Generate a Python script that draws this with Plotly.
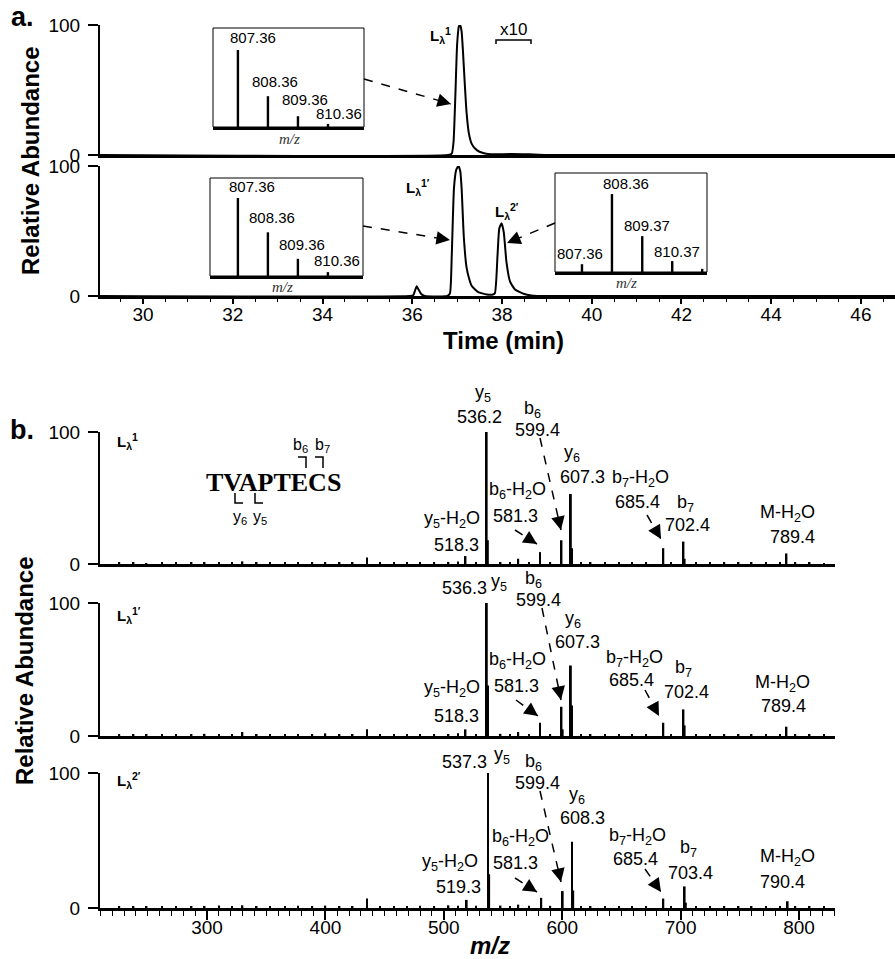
import plotly.graph_objects as go

W, H = 895, 959
def px(x): return x / W
def py(y): return 1 - y / H

FONT = "Liberation Sans, Arial, sans-serif"

# ---------------- DATA ----------------
# (a) extracted ion chromatograms (time in min, relative abundance)
chrom_top_time = [29.04, 36.80, 36.88, 36.92, 36.96, 37.00, 37.04, 37.07, 37.10, 37.13, 37.17, 37.21,
                  37.26, 37.32, 37.40, 37.50, 37.62, 37.75, 37.90, 38.20, 38.60, 39.00, 46.76]
chrom_top_int = [0, 0, 1, 10, 45, 85, 99, 100, 95, 80, 55, 33,
                 17, 9, 5, 2.5, 1.2, 0.5, 0.6, 0.8, 0.5, 0, 0]

chrom_bot_time = [29.04, 35.95, 36.02, 36.06, 36.10, 36.14, 36.20, 36.28, 36.78, 36.84, 36.88, 36.93,
                  36.98, 37.03, 37.07, 37.10, 37.15, 37.21, 37.27, 37.32, 37.40, 37.47, 37.56, 37.66,
                  37.78, 37.84, 37.90, 37.94, 37.99, 38.04, 38.10, 38.18, 38.29, 38.40, 38.50, 38.62,
                  38.80, 46.76]
chrom_bot_int = [0, 0, 0.5, 4, 7.5, 5, 1.5, 0, 0, 2, 31, 83,
                 97, 100, 96, 83, 45, 22, 13, 8, 5, 3, 2, 1.2,
                 1, 2, 31, 52, 56, 49, 26, 11, 5, 3, 1.5, 0.5,
                 0, 0]
time_ticks = [30, 32, 34, 36, 38, 40, 42, 44, 46]

# insets: isotope envelopes (m/z, relative abundance)
insetA_mz = [807.36, 808.36, 809.36, 810.36]
insetA_int = [100, 40, 14, 4]
insetA_lab = ["807.36", "808.36", "809.36", "810.36"]
insetB_mz = [807.36, 808.36, 809.36, 810.36]
insetB_int = [100, 56, 22, 5]
insetB_lab = ["807.36", "808.36", "809.36", "810.36"]
insetC_mz = [807.36, 808.36, 809.37, 810.37, 811.37]
insetC_int = [10, 100, 46, 14, 4]
insetC_lab = ["807.36", "808.36", "809.37", "810.37"]

# (b) MS/MS spectra (m/z, relative abundance)
spec1_mz = [518.3, 536.2, 537.2, 581.3, 599.4, 607.3, 608.3, 685.4, 702.4, 703.4, 789.4]
spec1_int = [6, 100, 18, 9, 18, 53, 12, 12, 17, 4, 8]
spec2_mz = [518.3, 536.3, 537.3, 581.3, 599.4, 600.4, 607.3, 608.3, 685.4, 702.4, 703.4, 789.4]
spec2_int = [5, 100, 38, 10, 22, 5, 53, 23, 10, 20, 8, 7]
spec3_mz = [519.3, 537.3, 538.3, 582.3, 600.4, 608.3, 609.3, 685.4, 703.4, 704.4, 790.4]
spec3_int = [6, 100, 25, 7.5, 12.5, 49, 13, 7, 16, 4, 5]

# minor (noise-level) peaks
minor_mz = [226, 238, 249, 262, 274, 287, 298, 310, 321, 330, 342, 353, 366, 377, 389, 400, 412,
            423, 435, 446, 458, 469, 480, 492, 504, 512, 527, 548, 556, 563, 572, 590, 616, 624,
            636, 648, 659, 671, 692, 713, 725, 737, 749, 760, 772, 784, 797, 809, 821]
minor1_int = [0.8, 1.0, 0.7, 1.2, 0.9, 1.1, 0.8, 1.5, 0.9, 2.0, 1.0, 1.2, 0.8, 1.3, 1.0, 1.2, 0.9,
              1.1, 5.0, 1.0, 1.3, 1.0, 1.4, 1.2, 1.6, 1.8, 1.5, 1.5, 1.2, 4.0, 1.6, 1.5, 1.3, 1.0,
              1.2, 1.0, 0.9, 1.1, 1.2, 1.0, 0.9, 1.0, 1.2, 0.8, 1.0, 1.1, 0.9, 1.0, 0.7]
minor2_int = [0.9, 1.1, 0.8, 1.0, 1.2, 1.0, 1.6, 1.5, 1.0, 3.0, 1.1, 1.3, 0.9, 1.2, 1.1, 2.0, 1.0,
              1.2, 5.0, 1.1, 1.2, 1.1, 1.3, 1.1, 1.5, 2.0, 1.4, 1.6, 1.3, 3.0, 1.5, 1.4, 1.2, 1.1,
              1.3, 1.1, 1.2, 1.0, 1.1, 1.0, 1.0, 1.1, 1.3, 0.9, 1.1, 1.2, 1.0, 1.0, 0.8]
minor3_int = [1.2, 1.4, 1.0, 1.5, 1.3, 1.4, 1.2, 1.8, 1.3, 2.0, 1.4, 1.5, 1.2, 1.6, 1.3, 1.8, 1.2,
              1.4, 7.0, 1.3, 1.5, 1.4, 1.6, 1.5, 2.0, 1.6, 1.6, 1.8, 1.5, 2.5, 1.7, 1.6, 1.5, 1.3,
              1.5, 1.3, 1.4, 1.2, 1.3, 1.2, 1.2, 1.3, 1.5, 1.1, 1.3, 1.4, 1.2, 1.2, 1.0]
mz_ticks = [300, 400, 500, 600, 700, 800]

# fragment labels (text, px-x, px-y)
spec1_labels = [("y<sub>5</sub>", 483, 393), ("536.2", 479, 417), ("b<sub>6</sub>", 532, 410), ("599.4", 537, 430),
                ("y<sub>6</sub>", 572, 453), ("607.3", 582, 477), ("b<sub>6</sub>-H<sub>2</sub>O", 517, 490),
                ("581.3", 515, 516), ("b<sub>7</sub>-H<sub>2</sub>O", 640, 478), ("685.4", 637, 502),
                ("b<sub>7</sub>", 685, 503), ("702.4", 687, 525), ("M-H<sub>2</sub>O", 787, 513), ("789.4", 792, 537),
                ("y<sub>5</sub>-H<sub>2</sub>O", 452, 519), ("518.3", 457, 545)]
spec2_labels = [("536.3", 464, 588), ("y<sub>5</sub>", 499, 582), ("b<sub>6</sub>", 533, 579), ("599.4", 538, 600),
                ("y<sub>6</sub>", 573, 619), ("607.3", 577, 642), ("b<sub>6</sub>-H<sub>2</sub>O", 517, 660),
                ("581.3", 516, 686), ("b<sub>7</sub>-H<sub>2</sub>O", 634, 658), ("685.4", 631, 680),
                ("b<sub>7</sub>", 683, 668), ("702.4", 686, 692), ("M-H<sub>2</sub>O", 782, 683), ("789.4", 783, 706),
                ("y<sub>5</sub>-H<sub>2</sub>O", 452, 688), ("518.3", 457, 716)]
spec3_labels = [("537.3", 465, 762), ("y<sub>5</sub>", 502, 755), ("b<sub>6</sub>", 533, 762), ("599.4", 537, 783),
                ("y<sub>6</sub>", 577, 795), ("608.3", 582, 818), ("b<sub>6</sub>-H<sub>2</sub>O", 520, 837),
                ("581.3", 515, 863), ("b<sub>7</sub>-H<sub>2</sub>O", 637, 836), ("685.4", 635, 859),
                ("b<sub>7</sub>", 688, 848), ("703.4", 690, 873), ("M-H<sub>2</sub>O", 787, 857), ("790.4", 782, 882),
                ("y<sub>5</sub>-H<sub>2</sub>O", 450, 862), ("519.3", 458, 887)]

# ---------------- FIGURE ----------------
fig = go.Figure()

def add_line(xs, ys, xa, ya):
    fig.add_trace(go.Scatter(x=xs, y=ys, mode="lines", xaxis=xa, yaxis=ya,
                             line=dict(color="black", width=2, shape="spline", smoothing=0.5),
                             hoverinfo="skip"))

def add_sticks(xs, ys, xa, ya, w):
    fig.add_trace(go.Bar(x=xs, y=ys, width=w, xaxis=xa, yaxis=ya,
                         marker=dict(color="black", line=dict(width=0)), hoverinfo="skip"))

add_line(chrom_top_time, chrom_top_int, "x", "y")
add_line(chrom_bot_time, chrom_bot_int, "x2", "y2")
add_sticks(insetA_mz, insetA_int, "x3", "y3", 0.08)
add_sticks(insetB_mz, insetB_int, "x4", "y4", 0.08)
add_sticks(insetC_mz, insetC_int, "x5", "y5", 0.08)
for mz, it, xa, ya in [(minor_mz, minor1_int, "x6", "y6"), (minor_mz, minor2_int, "x7", "y7"),
                       (minor_mz, minor3_int, "x8", "y8")]:
    add_sticks(mz, it, xa, ya, 1.3)
add_sticks(spec1_mz, spec1_int, "x6", "y6", 1.6)
add_sticks(spec2_mz, spec2_int, "x7", "y7", 1.6)
add_sticks(spec3_mz, spec3_int, "x8", "y8", 1.6)

def ax(**kw):
    d = dict(showgrid=False, zeroline=False, showline=False, ticks="", showticklabels=False,
             linecolor="black", tickcolor="black", fixedrange=True, automargin=False,
             tickfont=dict(family=FONT, size=19, color="black"))
    d.update(kw)
    return d

yab = dict(showline=True, linewidth=2, ticks="outside", ticklen=10, tickwidth=2,
           tickvals=[0, 100], showticklabels=True, range=[0, 100], ticklabelstandoff=4)

chrom_x = [29.04, 46.76]
spec_x = [209.6, 830.4]

layout = dict(
    template="none",
    width=W, height=H, margin=dict(l=0, r=0, t=0, b=0, pad=0, autoexpand=False),
    paper_bgcolor="white", plot_bgcolor="rgba(0,0,0,0)", showlegend=False, barmode="overlay",
    font=dict(family=FONT, color="black"),
    xaxis=ax(domain=[px(100), 1], range=chrom_x, anchor="y", showline=True, linewidth=2.5),
    yaxis=ax(domain=[py(155), py(25)], anchor="x", **yab),
    xaxis2=ax(domain=[px(100), 1], range=chrom_x, anchor="y2", showline=True, linewidth=2.5,
              ticks="outside", ticklen=5, tickwidth=1.5, tickvals=time_ticks, showticklabels=True,
              ticklabelstandoff=-6,
              minor=dict(dtick=0.5, tick0=30, ticklen=3, tickwidth=1.2, ticks="outside", tickcolor="black")),
    yaxis2=ax(domain=[py(296), py(166)], anchor="x2", **yab),
    xaxis3=ax(domain=[px(213), px(364)], range=[806.53, 811.56], anchor="y3", showline=True, linewidth=2.5),
    yaxis3=ax(domain=[py(127), py(28)], range=[0, 128.6], anchor="x3"),
    xaxis4=ax(domain=[px(210), px(363)], range=[806.43, 811.53], anchor="y4", showline=True, linewidth=2.5),
    yaxis4=ax(domain=[py(276), py(178)], range=[0, 125.6], anchor="x4"),
    xaxis5=ax(domain=[px(555), px(707)], range=[806.46, 811.53], anchor="y5", showline=True, linewidth=2.5),
    yaxis5=ax(domain=[py(272), py(173)], range=[0, 127], anchor="x5"),
    xaxis6=ax(domain=[px(100), px(835)], range=spec_x, anchor="y6", showline=True, linewidth=2.5),
    yaxis6=ax(domain=[py(564), py(432)], anchor="x6", **yab),
    xaxis7=ax(domain=[px(100), px(835)], range=spec_x, anchor="y7", showline=True, linewidth=2.5),
    yaxis7=ax(domain=[py(736), py(603)], anchor="x7", **yab),
    xaxis8=ax(domain=[px(100), px(835)], range=spec_x, anchor="y8", showline=True, linewidth=2.5,
              ticks="outside", ticklen=9, tickwidth=1.5, tickvals=mz_ticks, showticklabels=True,
              ticklabelstandoff=-9,
              minor=dict(dtick=10, tick0=300, ticklen=5, tickwidth=1.2, ticks="outside", tickcolor="black")),
    yaxis8=ax(domain=[py(908), py(773)], anchor="x8", **yab),
)
fig.update_layout(**layout)

shapes = []
annotations = []

def text(t, x, y, size=18, **kw):
    d = dict(text=t, x=px(x), y=py(y), xref="paper", yref="paper", showarrow=False,
             xanchor="center", yanchor="middle", font=dict(family=FONT, size=size, color="black"))
    d.update(kw)
    annotations.append(d)

def seg(pts, width=1.5, dash="solid"):
    path = "M " + " L ".join(f"{px(a)},{py(b)}" for a, b in pts)
    shapes.append(dict(type="path", path=path, xref="paper", yref="paper",
                       line=dict(color="black", width=width, dash=dash)))

def arrow(tail, tip, dash="dash"):
    shapes.append(dict(type="line", xref="paper", yref="paper", x0=px(tail[0]), y0=py(tail[1]),
                       x1=px(tip[0]), y1=py(tip[1]), line=dict(color="black", width=1.5, dash=dash)))
    dx, dy = tail[0] - tip[0], tail[1] - tip[1]
    n = (dx * dx + dy * dy) ** 0.5
    annotations.append(dict(x=px(tip[0]), y=py(tip[1]), xref="paper", yref="paper", text="",
                            showarrow=True, ax=dx / n * 14, ay=dy / n * 14, arrowhead=2,
                            arrowsize=1.7, arrowwidth=1.6, arrowcolor="black", standoff=0))

# inset boxes
for x0, x1, y0, y1 in [(213, 364, 28, 127), (210, 363, 178, 276), (555, 707, 173, 272)]:
    shapes.append(dict(type="rect", xref="paper", yref="paper", x0=px(x0), x1=px(x1), y0=py(y1), y1=py(y0),
                       line=dict(color="black", width=1)))

# inset labels
for lab, (x, y) in zip(insetA_lab, [(253, 38), (275, 81), (305, 100), (339, 114)]):
    text(lab, x, y, 15)
for lab, (x, y) in zip(insetB_lab, [(252, 187), (272, 218), (302, 244), (337, 260)]):
    text(lab, x, y, 15)
for lab, (x, y) in zip(insetC_lab, [(580, 253), (626, 183), (647, 225), (677, 251)]):
    text(lab, x, y, 15)
for x, y in [(289, 139), (282, 287), (626, 283)]:
    text("<i>m/z</i>", x, y, 15, font=dict(family="Liberation Serif, Times New Roman, serif", size=15, color="#333"))

# chromatogram peak labels and arrows
text("<b>L<sub>λ</sub><sup>1</sup></b>", 440, 36, 15)
text("<b>L<sub>λ</sub><sup>1′</sup></b>", 418, 188, 15)
text("<b>L<sub>λ</sub><sup>2′</sup></b>", 507, 212, 15)
arrow((364, 79), (451, 104))
arrow((363, 226), (450, 240))
arrow((555, 223), (507, 243))

# x10 bracket
text("x10", 513, 30, 17)
seg([(496, 44), (496, 40), (531, 40), (531, 44)], width=1.5)

# panel letters & axis titles
text("<b>a.</b>", 22, 17, 27)
text("<b>b.</b>", 22, 430, 27)
text("<b>Relative Abundance</b>", 30, 161, 24, textangle=-90)
text("<b>Relative Abundance</b>", 24, 671, 24, textangle=-90)
text("<b>Time (min)</b>", 504, 340, 24)
text("<b><i>m/z</i></b>", 490, 945, 24)

# spectrum labels
text("<b>L<sub>λ</sub><sup>1</sup></b>", 128, 441, 15)
text("<b>L<sub>λ</sub><sup>1′</sup></b>", 129, 615, 15)
text("<b>L<sub>λ</sub><sup>2′</sup></b>", 129, 780, 15)
for labs in (spec1_labels, spec2_labels, spec3_labels):
    for t, x, y in labs:
        text(t, x, y, 18)

for tail, tip in [((540, 438), (561, 530)), ((515, 530), (537, 544)), ((647, 515), (661, 539)),
                  ((542, 608), (561, 700)), ((516, 700), (538, 716)), ((645, 690), (659, 716)),
                  ((540, 791), (561, 882)), ((515, 878), (537, 892)), ((645, 869), (661, 892))]:
    arrow(tail, tip)

# peptide sequence with cleavage brackets
text("<b>TVAPTECS</b>", 273, 482, 25, font=dict(family="Liberation Serif, Times New Roman, serif", size=26, color="black"))
seg([(298, 457), (306, 457), (306, 468)])
seg([(315, 457), (323, 457), (323, 468)])
seg([(235, 493), (235, 503), (243, 503)])
seg([(255, 493), (255, 503), (263, 503)])
text("b<sub>6</sub>", 300, 445, 16)
text("b<sub>7</sub>", 322, 445, 16)
text("y<sub>6</sub>", 240, 517, 16)
text("y<sub>5</sub>", 260, 517, 16)

fig.update_layout(shapes=shapes, annotations=annotations)
fig.write_html("out.html")
